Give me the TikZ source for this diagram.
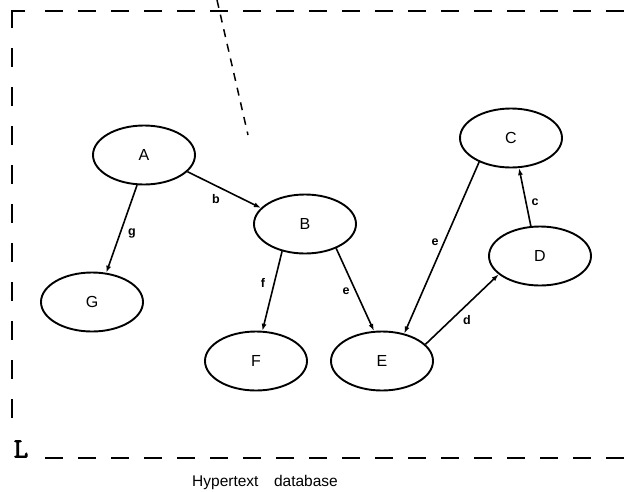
\documentclass[tikz,border=0pt]{standalone}
\usepackage{fontspec}
\setmainfont{Liberation Sans}
\newfontfamily\Lfont[FakeBold=3]{Latin Modern Mono}
\usetikzlibrary{shapes.geometric,arrows.meta}
\begin{document}
\begin{tikzpicture}[x=1pt,y=-1pt,
  nd/.style={draw,ellipse,line width=1.9pt,minimum width=102pt,minimum height=59pt,inner sep=0pt,font=\fontsize{16}{16}\selectfont},
  lnk/.style={line width=1.6pt,-{Latex[length=7pt,width=5pt]}},
  lbl/.style={font=\bfseries\fontsize{12.5}{12.5}\selectfont,inner sep=0pt},
  frame/.style={line width=2pt,dash pattern=on 18pt off 15pt},
  vframe/.style={line width=2pt,dash pattern=on 19pt off 20pt}]
\useasboundingbox (0,0) rectangle (627,491);
% frame
\draw[line width=2pt] (25,11) -- (12,11) -- (12,28);
\draw[frame] (45,11) -- (627,11);
\draw[vframe] (12,48) -- (12,418);
\draw[frame] (45,458) -- (627,458);
\node[font=\Lfont\fontsize{28}{28}\selectfont,inner sep=0pt] (L) at (21,449) {L};
\draw[line width=1.5pt,dash pattern=on 8pt off 7pt] (217,0) -- (248,135);
% nodes
\node[nd] (A) at (144,155) {A};
\node[nd] (B) at (305,224) {B};
\node[nd] (C) at (511,138) {C};
\node[nd] (D) at (540,256) {D};
\node[nd] (E) at (382,361) {E};
\node[nd] (F) at (256,361) {F};
\node[nd] (G) at (92,302) {G};
% edges
\draw[lnk] (A.-21) -- (B.160);
\draw[lnk] (A.257) -- (G.64);
\draw[lnk] (B.230) -- (F.78);
\draw[lnk] (B.-38) -- (E.105);
\draw[lnk] (C.217) -- (E.51);
\draw[lnk] (E.21) -- (D.204);
\draw[lnk] (D.107) -- (C.285);
% labels
\node[lbl] (lb) at (216,199) {b};
\node[lbl] (lg) at (132,233) {g};
\node[lbl] (lf) at (263,283) {f};
\node[lbl] (le1) at (346,291) {e};
\node[lbl] (le2) at (435,242) {e};
\node[lbl] (ld) at (467,320) {d};
\node[lbl] (lc) at (535,202) {c};
\node[font=\fontsize{15.5}{15.5}\selectfont,inner sep=0pt] (cap) at (265,482) {Hypertext\hspace{1em}database};
\end{tikzpicture}
\end{document}
